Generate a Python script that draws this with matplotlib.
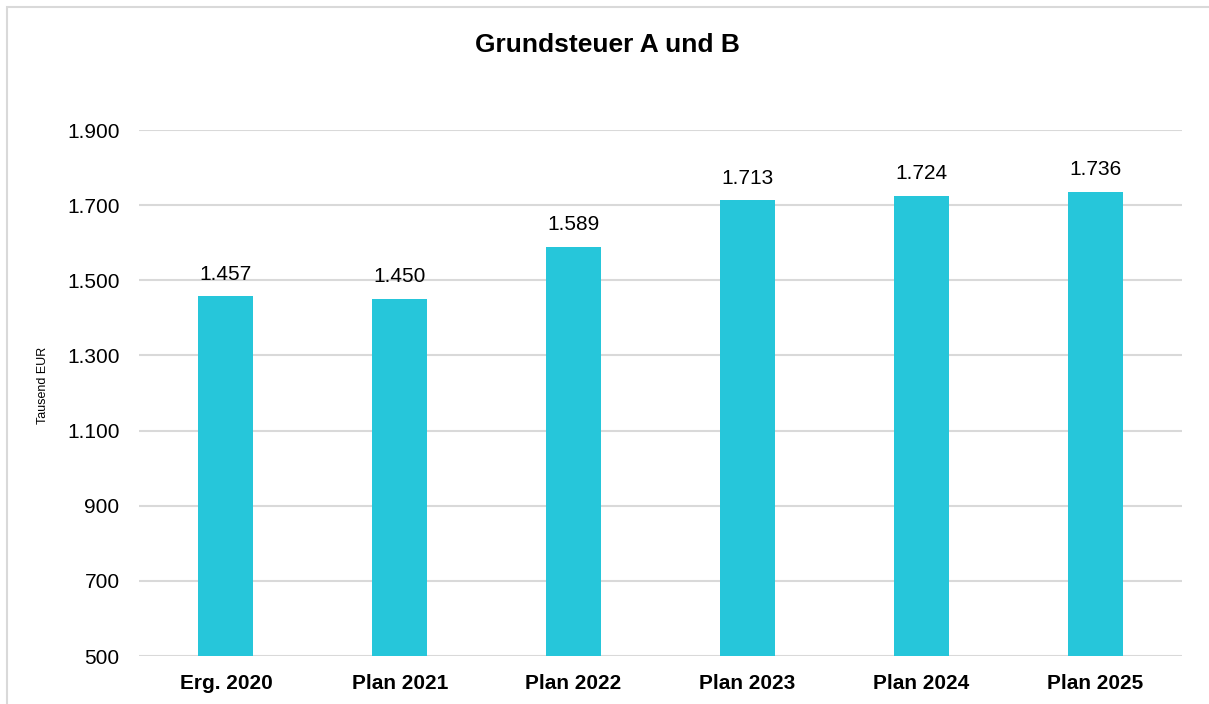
import matplotlib
matplotlib.use("Agg")
import matplotlib.pyplot as plt
from matplotlib.patches import Rectangle

categories = ["Erg. 2020", "Plan 2021", "Plan 2022", "Plan 2023", "Plan 2024", "Plan 2025"]
values = [1457, 1450, 1589, 1713, 1724, 1736]
yticks = [500, 700, 900, 1100, 1300, 1500, 1700, 1900]

plt.rcParams['font.family'] = ['Liberation Sans', 'DejaVu Sans']

W, H = 1209, 704
fig = plt.figure(figsize=(W / 100, H / 100), dpi=100)

# outer border
fig.patches.append(Rectangle((7 / W, 0 - 0.1), 1.2, (H - 7) / H + 0.1, transform=fig.transFigure,
                             fill=False, edgecolor='#d9d9d9', linewidth=1.5))

ax = fig.add_axes([139 / W, 1 - 656 / H, (1182 - 139) / W, (656 - 130) / H])

fmt = lambda v: f"{v:,}".replace(",", ".")
x = range(len(categories))
bars = ax.bar(x, values, width=0.317, color='#26C6DA', zorder=3)
for xi, v in zip(x, values):
    ax.annotate(fmt(v), (xi, v), xytext=(0, 12), textcoords='offset points',
                ha='center', va='baseline', fontsize=15, color='#000000')

ax.set_ylim(500, 1900)
ax.set_xlim(-0.5, len(categories) - 0.5)
ax.set_yticks(yticks)
ax.set_yticklabels([fmt(t) for t in yticks], fontsize=15)
ax.set_xticks(list(x))
ax.set_xticklabels(categories, fontsize=15, fontweight='bold')
ax.tick_params(axis='both', length=0)
ax.tick_params(axis='x', pad=13)
ax.tick_params(axis='y', pad=14)
ax.grid(axis='y', color='#d9d9d9', linewidth=1.5, zorder=0)
for s in ax.spines.values():
    s.set_visible(False)
ax.set_ylabel("Tausend EUR", fontsize=9)
ax.yaxis.set_label_coords(-0.086, 0.515)

fig.text(607 / W, 1 - 45 / H, "Grundsteuer A und B", ha='center', va='center',
         fontsize=19, fontweight='bold')

fig.savefig("out.png", dpi=100)
